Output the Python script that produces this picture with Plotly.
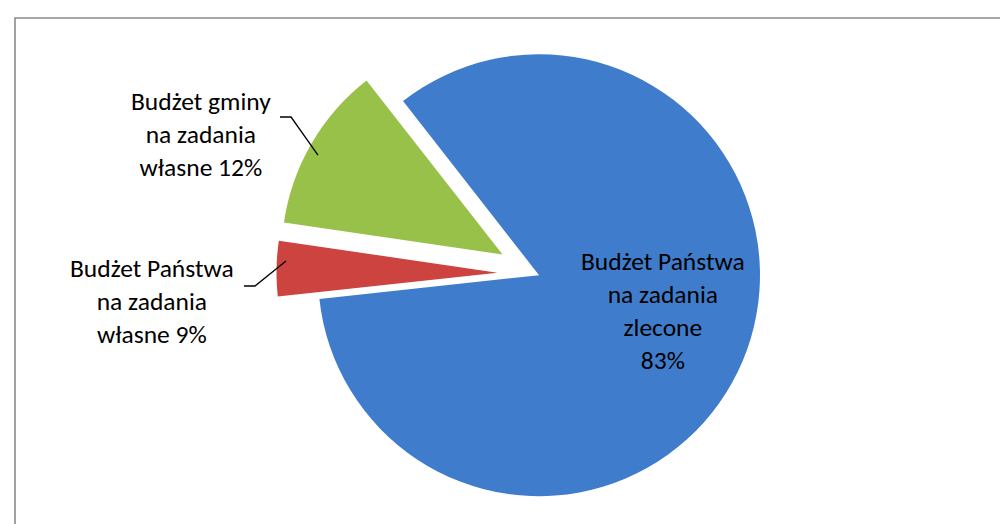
import plotly.graph_objects as go

# ---- data ----
categories = ["Budżet Państwa na zadania zlecone",
              "Budżet Państwa na zadania własne",
              "Budżet gminy na zadania własne"]
values = [83, 4, 12]
label_texts = ["Budżet Państwa<br>na zadania<br>zlecone<br>83%",
               "Budżet Państwa<br>na zadania<br>własne 9%",
               "Budżet gminy<br>na zadania<br>własne 12%"]
colors = ["#3F7DCC", "#CC433F", "#98C14A"]
pulls = [0.02, 0.17, 0.17]

W, H = 1008, 524
MT, MB = 7, 0
PH = H - MT - MB


def px(x):
    return x / W


def py(y):
    return (H - MB - y) / PH


FONT = "Carlito, Calibri, Lato, sans-serif"

fig = go.Figure()
fig.add_trace(go.Pie(
    labels=categories,
    values=values,
    sort=False,
    direction="clockwise",
    rotation=-38,
    pull=pulls,
    marker=dict(colors=colors, line=dict(width=0)),
    textinfo="none",
    hoverinfo="label+percent",
    showlegend=False,
    domain=dict(x=[0.2252, 0.8204], y=[0, 1]),
))

label_pos = [(655, 303), (144, 293), (193, 127)]
for (lx, ly), t in zip(label_pos, label_texts):
    fig.add_annotation(x=px(lx), y=py(ly), xref="paper", yref="paper",
                       text=t, showarrow=False, align="center",
                       xanchor="center", yanchor="middle",
                       font=dict(family=FONT, size=25.5, color="#000000"))

leaders = [[(272, 109), (283, 109), (310, 147)],
           [(236, 278), (247, 278), (278, 253)]]
for pts in leaders:
    path = "M " + " L ".join(f"{px(a):.4f},{py(b):.4f}" for a, b in pts)
    fig.add_shape(type="path", path=path, xref="paper", yref="paper",
                  line=dict(color="#000000", width=1.3))

# chart frame
fig.add_shape(type="rect", xref="paper", yref="paper",
              x0=px(7), y0=py(540), x1=px(1020), y1=py(10),
              line=dict(color="#8a8a8a", width=1.6), fillcolor="rgba(0,0,0,0)")

fig.update_layout(width=W, height=H,
                  margin=dict(l=0, r=0, t=MT, b=MB),
                  paper_bgcolor="white", plot_bgcolor="white")

fig.write_html("out.html")
